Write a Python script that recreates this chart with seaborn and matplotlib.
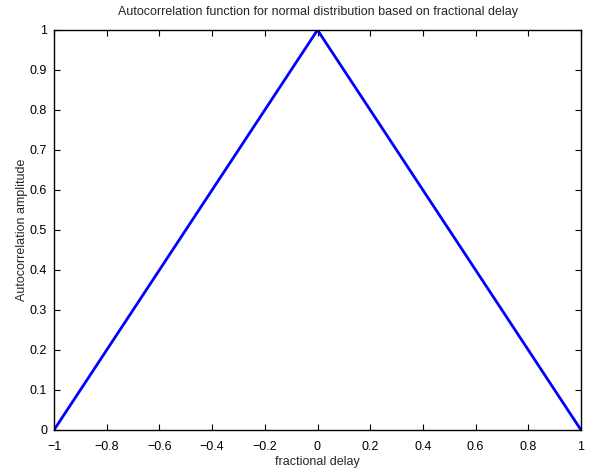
import matplotlib
matplotlib.use("Agg")
import matplotlib.pyplot as plt
import seaborn as sns
import pandas as pd

delay = [-1.0, 0.0, 1.0]
amplitude = [0.0, 1.0, 0.0]
x_ticks = [-1, -0.8, -0.6, -0.4, -0.2, 0, 0.2, 0.4, 0.6, 0.8, 1]
y_ticks = [0, 0.1, 0.2, 0.3, 0.4, 0.5, 0.6, 0.7, 0.8, 0.9, 1]

sns.set_style("ticks")
plt.rcParams['font.family'] = ['Liberation Sans', 'DejaVu Sans']
plt.rcParams['axes.unicode_minus'] = True

fig = plt.figure(figsize=(5.92, 4.7), dpi=100)
ax = fig.add_axes([54/592, 40/470, (581-54)/592, 400/470])

df = pd.DataFrame({"delay": delay, "amp": amplitude})
sns.lineplot(data=df, x="delay", y="amp", ax=ax, color="#0000ff", linewidth=2)

ax.set_xlim(-1, 1)
ax.set_ylim(0, 1)
ax.set_xticks(x_ticks)
ax.set_yticks(y_ticks)
ax.set_xticklabels([("%g" % v).replace("-", "\u2212") for v in x_ticks])
ax.set_yticklabels(["%g" % v for v in y_ticks])
ax.tick_params(direction="in", length=4, width=0.8, labelsize=9, top=True, right=True,
               colors="black")
ax.tick_params(axis="x", pad=8)
ax.tick_params(axis="y", pad=5)
for s in ax.spines.values():
    s.set_visible(True)
    s.set_linewidth(1.0)
    s.set_color("black")

ax.set_xlabel("fractional delay", fontsize=9, labelpad=2)
ax.set_ylabel("Autocorrelation amplitude", fontsize=9, labelpad=1)
ax.set_title("Autocorrelation function for normal distribution based on fractional delay",
             fontsize=9, pad=11)

fig.savefig("out.png", dpi=100)
